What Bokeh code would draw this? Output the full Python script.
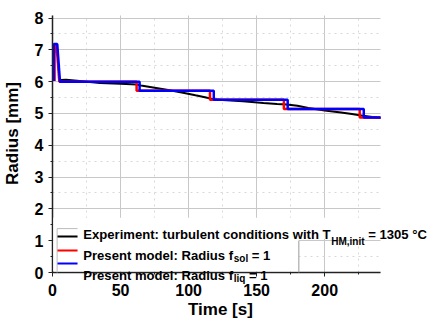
import math
from bokeh.plotting import figure
from bokeh.models import SingleIntervalTicker, Range1d, BoxAnnotation, Label, Arrow
from bokeh.embed import file_html
from bokeh.resources import INLINE

# ---- data ----
exp_t = [6, 10, 20, 35, 50, 62, 65, 75, 85, 95, 105, 112, 118, 125, 140, 155, 165, 172, 180, 188, 200, 212, 220, 228, 235, 241]
exp_r = [6.05, 6.06, 6.02, 5.96, 5.93, 5.91, 5.88, 5.81, 5.74, 5.66, 5.57, 5.51, 5.45, 5.42, 5.38, 5.33, 5.30, 5.28, 5.24, 5.17, 5.09, 5.03, 4.98, 4.93, 4.89, 4.86]

sol_t = [1.5, 1.5, 3.0, 5.0, 61.8, 61.8, 115.7, 115.7, 170.0, 170.0, 225.7, 225.7, 241]
sol_r = [6.02, 7.12, 7.12, 6.00, 6.00, 5.71, 5.71, 5.43, 5.43, 5.14, 5.14, 4.87, 4.87]

liq_t = [1.0, 1.0, 3.5, 5.5, 64.0, 64.0, 118.5, 118.5, 172.8, 172.8, 228.7, 228.7, 241]
liq_r = [6.02, 7.18, 7.18, 6.00, 6.00, 5.71, 5.71, 5.43, 5.43, 5.14, 5.14, 4.87, 4.87]

x_ticks_interval = 50
y_ticks_interval = 1
x_bounds = (0, 241)
y_bounds = (0, 8.08)
x_title = "Time [s]"
y_title = "Radius [mm]"

NB = "\u00a0"
# legend text pieces: (main, subscript, tail)
leg_rows = [
    ("Experiment: turbulent conditions with T", "HM,init", NB + "= 1305 °C"),
    ("Present model: Radius f", "sol", NB + "= 1"),
    ("Present model: Radius f", "liq", NB + "= 1"),
]
leg_colors = ["black", "red", "blue"]

# ---- layout helpers ----
AW = {' ': 278, NB: 278, 'a': 556, 'b': 611, 'c': 556, 'd': 611, 'e': 556, 'f': 333, 'g': 611, 'h': 611,
      'i': 278, 'j': 278, 'k': 556, 'l': 278, 'm': 889, 'n': 611, 'o': 611, 'p': 611, 'q': 611,
      'r': 389, 's': 556, 't': 333, 'u': 611, 'v': 556, 'w': 778, 'x': 556, 'y': 556, 'z': 500,
      'E': 667, 'T': 611, 'P': 667, 'R': 722, 'H': 722, 'M': 833, 'C': 722, ':': 333, ',': 278,
      '=': 584, '°': 400, '0': 556, '1': 556, '3': 556, '5': 556}


def tw(s, size):
    return sum(AW.get(ch, 556) for ch in s) * size / 1000.0


FONT = "Liberation Sans"

# the frame fills the whole canvas; axes are placed at the data origin
p = figure(width=435, height=320, x_range=Range1d(-38.2, 281.4), y_range=Range1d(-1.509, 8.551),
           output_backend="svg", toolbar_location=None, min_border=0)
p.outline_line_color = None
p.background_fill_color = "white"
p.border_fill_color = "white"

p.xaxis.ticker = SingleIntervalTicker(interval=x_ticks_interval, num_minor_ticks=2)
p.yaxis.ticker = SingleIntervalTicker(interval=y_ticks_interval, num_minor_ticks=2)
p.xaxis.fixed_location = 0
p.yaxis.fixed_location = 0
p.xaxis.bounds = x_bounds
p.yaxis.bounds = y_bounds

for ax in (p.xaxis[0], p.yaxis[0]):
    ax.major_label_text_font = FONT
    ax.major_label_text_font_style = "bold"
    ax.major_label_text_font_size = "16px"
    ax.major_label_text_color = "black"
    ax.axis_line_color = "#222222"
    ax.axis_line_width = 1.5
    ax.major_tick_out = 4
    ax.major_tick_in = 0
    ax.minor_tick_out = 2
    ax.minor_tick_in = 0
    ax.major_tick_line_color = "#222222"
    ax.minor_tick_line_color = "#222222"

p.xaxis.major_label_standoff = 7
p.yaxis.major_label_standoff = 5

for g in (p.xgrid[0], p.ygrid[0]):
    g.grid_line_color = "#c8c8c8"
    g.grid_line_width = 1
    g.minor_grid_line_color = "#d8d8d8"
    g.minor_grid_line_dash = "dotted"
p.xgrid.bounds = x_bounds
p.xgrid.cross_bounds = y_bounds
p.ygrid.bounds = y_bounds
p.ygrid.cross_bounds = x_bounds

p.line(exp_t, exp_r, line_color="black", line_width=2)
p.line(sol_t, sol_r, line_color="red", line_width=2.5)
p.line(liq_t, liq_r, line_color="blue", line_width=2.5)

# legend background (white) and frame pieces
p.add_layout(BoxAnnotation(left=0.6, right=181, bottom=0.04, top=1.72, fill_color="white",
                           fill_alpha=1, line_color=None))
p.add_layout(BoxAnnotation(left=181, right=241, bottom=1.05, top=1.72, fill_color="white",
                           fill_alpha=1, line_color=None))
p.add_layout(Arrow(end=None, x_start=181, y_start=0, x_end=181, y_end=1.0,
                   line_color="#999999", line_width=1))
p.add_layout(Arrow(end=None, x_start=3.4, y_start=0, x_end=3.4, y_end=1.38,
                   line_color="#bbbbbb", line_width=1))
p.add_layout(Arrow(end=None, x_start=3.4, y_start=1.38, x_end=18.4, y_end=1.38,
                   line_color="#bbbbbb", line_width=1))

leg_line_y = [1.13, 0.69, 0.28]
for yy, c in zip(leg_line_y, leg_colors):
    p.add_layout(Arrow(end=None, x_start=3.7, y_start=yy, x_end=18.4, y_end=yy,
                       line_color=c, line_width=2))

leg_text_y = [1.19, 0.55, -0.11]
sub_drop = [7, 3, 3]
MAIN, SUB = 13.1, 10
for (main, sub, tail), yy, dr in zip(leg_rows, leg_text_y, sub_drop):
    w1 = tw(main, MAIN)
    w2 = tw(sub, SUB)
    common = dict(x=22.6, y=yy, text_font=FONT, text_font_style="bold",
                  text_baseline="alphabetic", text_align="left", text_color="black")
    p.add_layout(Label(text=main, text_font_size=f"{MAIN}px", **common))
    p.add_layout(Label(text=sub, text_font_size=f"{SUB}px", x_offset=w1 + 0.5, y_offset=-dr, **common))
    p.add_layout(Label(text=tail, text_font_size=f"{MAIN}px", x_offset=w1 + w2 + 0.5, **common))

# axis titles
p.add_layout(Label(x=123.4, y=-1.163, text=x_title, text_font=FONT, text_font_style="bold",
                   text_font_size="17px", text_align="center", text_baseline="middle",
                   text_color="black"))
p.add_layout(Label(x=-29.4, y=4.37, text=y_title, text_font=FONT, text_font_style="bold",
                   text_font_size="17px", text_align="center", text_baseline="middle",
                   angle=math.pi / 2, text_color="black"))

open("out.html", "w").write(file_html(p, INLINE))
